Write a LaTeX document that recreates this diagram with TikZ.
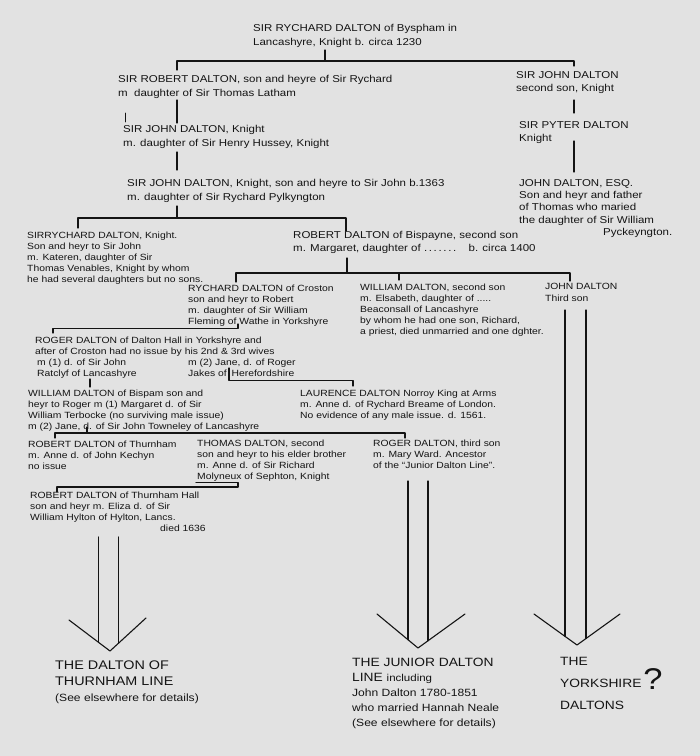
\documentclass[tikz,border=0pt]{standalone}
\usepackage{fontspec}
\setmainfont{Liberation Sans}[FakeStretch=1.15]
\definecolor{bg}{RGB}{226,226,226}
\definecolor{ink}{RGB}{20,20,20}
\tikzset{
  ln/.style={draw=ink, line width=1.1pt, line cap=round, line join=round},
  txt/.style={anchor=north west, inner sep=0pt, align=left, text=ink},
  up/.style={txt, font=\fontsize{10}{14}\selectfont},
  esq/.style={txt, font=\fontsize{10}{12.3}\selectfont},
  lo/.style={txt, font=\fontsize{9}{11}\selectfont},
  lbl/.style={txt, font=\fontsize{12.5}{16}\selectfont},
}
\begin{document}
\begin{tikzpicture}[x=1pt,y=-1pt]
\fill[bg] (0,0) rectangle (700,756);
\useasboundingbox (0,0) rectangle (700,756);

% ---------- persons ----------
\node[up] (top) at (253,24) {SIR RYCHARD DALTON of Byspham in\\Lancashyre, Knight b. circa 1230};
\node[up] (srob) at (118,75) {SIR ROBERT DALTON, son and heyre of Sir Rychard\\m \ daughter of Sir Thomas Latham};
\node[up, font=\fontsize{10}{13}\selectfont] (sjohn) at (516,71) {SIR JOHN DALTON\\second son, Knight};
\node[up, font=\fontsize{10}{13}\selectfont] (spyter) at (519,121) {SIR PYTER DALTON\\Knight};
\node[up] (sjk) at (123,125) {SIR JOHN DALTON, Knight\\m. daughter of Sir Henry Hussey, Knight};
\node[up] (sj63) at (127,179) {SIR JOHN DALTON, Knight, son and heyre to Sir John b.1363\\m. daughter of Sir Rychard Pylkyngton};
\node[esq] (esq) at (519,179) {JOHN DALTON, ESQ.\\Son and heyr and father\\of Thomas who maried\\the daughter of Sir William\\\hspace*{84pt}Pyckeyngton.};
\node[lo] (srych) at (27,231.5) {SIRRYCHARD DALTON, Knight.\\Son and heyr to Sir John\\m. Kateren, daughter of Sir\\Thomas Venables, Knight by whom\\he had several daughters but no sons.};
\node[up, font=\fontsize{10}{13}\selectfont] (robb) at (293,231) {ROBERT DALTON of Bispayne, second son\\m. Margaret, daughter of .\,.\,.\,.\,.\,.\,.\hspace{8pt} b. circa 1400};
\node[lo] (rychc) at (188,284.5) {RYCHARD DALTON of Croston\\son and heyr to Robert\\m. daughter of Sir William\\Fleming of Wathe in Yorkshyre};
\node[lo] (willb) at (360,283.5) {WILLIAM DALTON, second son\\m. Elsabeth, daughter of .....\\Beaconsall of Lancashyre\\by whom he had one son, Richard,\\a priest, died unmarried and one dghter.};
\node[lo, font=\fontsize{9}{12}\selectfont] (johnt) at (545,283.5) {JOHN DALTON\\Third son};
\node[lo] (roger) at (35,336.5) {ROGER DALTON of Dalton Hall in Yorkshyre and\\after of Croston had no issue by his 2nd \& 3rd wives};
\node[lo] (rogerA) at (37,358.5) {m (1) d. of Sir John\\Ratclyf of Lancashyre};
\node[lo] (rogerB) at (188,358.5) {m (2) Jane, d. of Roger\\Jakes of \hspace{2pt}Herefordshire};
\node[lo] (laur) at (300,389.5) {LAURENCE DALTON Norroy King at Arms\\m. Anne d. of Rychard Breame of London.\\No evidence of any male issue. d. 1561.};
\node[lo] (willbis) at (28,389.5) {WILLIAM DALTON of Bispam son and\\heyr to Roger m (1) Margaret d. of Sir\\William Terbocke (no surviving male issue)\\m (2) Jane, d. of Sir John Towneley of Lancashyre};
\node[lo] (robt) at (28,440.5) {ROBERT DALTON of Thurnham\\m. Anne d. of John Kechyn\\no issue};
\node[lo] (thom) at (197,439.5) {THOMAS DALTON, second\\son and heyr to his elder brother\\m. Anne d. of Sir Richard\\Molyneux of Sephton, Knight};
\node[lo] (rog3) at (373,439.5) {ROGER DALTON, third son\\m. Mary Ward. Ancestor\\of the “Junior Dalton Line”.};
\node[lo] (robh) at (30,491.5) {ROBERT DALTON of Thurnham Hall\\son and heyr m. Eliza d. of Sir\\William Hylton of Hylton, Lancs.\\\hspace*{130pt}died 1636};

% ---------- line labels ----------
\node[lbl] (lth) at (55,660.5) {THE DALTON OF\\THURNHAM LINE\\{\fontsize{10.5}{16}\selectfont (See elsewhere for details)}};
\node[lbl, font=\fontsize{12}{15}\selectfont] (ljr) at (352,657.5) {THE JUNIOR DALTON\\LINE {\fontsize{10}{15}\selectfont including}\\{\fontsize{10.5}{15}\selectfont John Dalton 1780-1851}\\{\fontsize{10.5}{15}\selectfont who married Hannah Neale}\\{\fontsize{10.5}{15}\selectfont (See elsewhere for details)}};
\node[lbl, font=\fontsize{12}{22}\selectfont] (lyk) at (560,657.5) {THE\\YORKSHIRE\\DALTONS};
\node[font=\fontsize{30}{30}\selectfont, inner sep=0pt, text=ink] (qm) at (653,679) {?};

% ---------- connectors ----------
\draw[ln] (325,50) -- (325,61);
\draw[ln] (177,70) -- (177,61) -- (574,61) -- (574,66);
\draw[ln] (177,100) -- (177,123);
\draw[ln, line width=0.6pt] (125,113) -- (125,122);
\draw[ln] (177,152) -- (177,170);
\draw[ln] (574,100) -- (574,113);
\draw[ln] (574,141) -- (574,172);
\draw[ln] (177,206) -- (177,218);
\draw[ln] (78,228) -- (78,218) -- (346,218) -- (346,231);
\draw[ln] (347,258) -- (347,273);
\draw[ln] (236,282) -- (236,273) -- (570,273) -- (570,281);
\draw[ln] (399,273) -- (399,280);
\draw[ln] (53,333) -- (53,328.5) -- (238,328.5) -- (238,324);
\draw[ln] (90,379) -- (90,387);
\draw[ln] (229,368) -- (229,380.5) -- (353,380.5) -- (353,386);
\draw[ln] (87,427) -- (87,433);
\draw[ln] (55,438) -- (55,433) -- (405,433) -- (405,438);
\draw[ln] (196,482.5) -- (238,482.5) -- (238,487) -- (57,487) -- (57,492);

% ---------- arrows ----------
\draw[ln] (98.5,537) -- (98.5,642.3);
\draw[ln] (118.5,537) -- (118.5,643.2);
\draw[ln] (69,620) -- (110,651) -- (146,618);
\draw[ln] (408,481) -- (408,639.7);
\draw[ln] (428,481) -- (428,640.8);
\draw[ln] (377,614) -- (418,648) -- (465,614);
\draw[ln] (565,310) -- (565,636.3);
\draw[ln] (586,310) -- (586,638.5);
\draw[ln] (534,614) -- (577,645) -- (620,614);
\end{tikzpicture}
\end{document}
